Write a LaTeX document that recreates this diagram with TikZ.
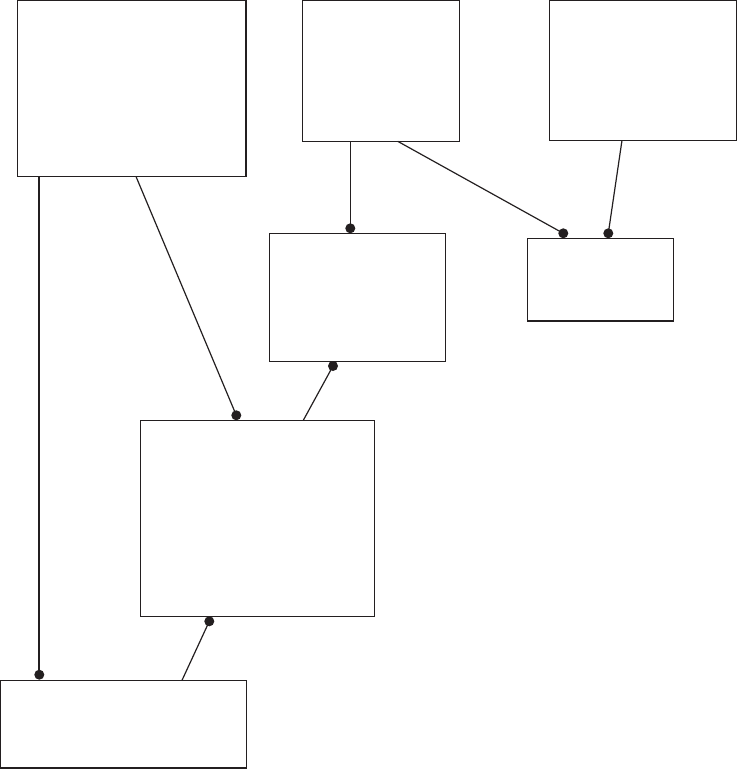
\documentclass[tikz,border=0pt]{standalone}
\definecolor{ink}{HTML}{231F20}
\begin{document}
\begin{tikzpicture}[x=1pt,y=-1pt,
  box/.style={draw=ink,line width=1.1pt,inner sep=0pt,outer sep=0pt,anchor=north west,fill=none},
  dotmark/.style={circle,fill=ink,inner sep=0pt,minimum size=10pt},
  link/.style={draw=ink,line width=1.2pt}]
\useasboundingbox (0,0) rectangle (738,769);
% boxes
\node[box,minimum width=228.7pt,minimum height=176pt] (A) at (17.3,0.5) {};
\node[box,minimum width=157.4pt,minimum height=140.8pt] (B) at (302.3,0.5) {};
\node[box,minimum width=187.5pt,minimum height=139.8pt] (C) at (549.3,0.5) {};
\node[box,minimum width=176pt,minimum height=128pt] (D) at (269.3,233.3) {};
\node[box,minimum width=146pt,minimum height=82.7pt] (E) at (527.3,238.3) {};
\node[box,minimum width=234pt,minimum height=196pt] (F) at (140.7,420.3) {};
\node[box,minimum width=245.8pt,minimum height=87.7pt] (G) at (0.5,680.3) {};
% dot positions
\coordinate (d1) at (39.3,674.7);
\coordinate (d2) at (236.3,415.3);
\coordinate (d3) at (350.3,228.3);
\coordinate (d4) at (563.3,233.3);
\coordinate (d5) at (608.3,233.3);
\coordinate (d6) at (333,366);
\coordinate (d7) at (209.3,621.3);
% connectors
\draw[link,line width=2pt] (A.south -| d1) -- (d1);
\draw[link] ([xshift=118.7pt]A.south west) -- (d2);
\draw[link] (B.south -| d3) -- (d3);
\draw[link] ([xshift=95.4pt]B.south west) -- (d4);
\draw[link] ([xshift=72.7pt]C.south west) -- (d5);
\draw[link] ([xshift=162.6pt]F.north west) -- (d6);
\draw[link] ([xshift=181.5pt]G.north west) -- (d7);
% dots
\foreach \d in {d1,d2,d3,d4,d5,d6,d7} \node[dotmark] at (\d) {};
\end{tikzpicture}
\end{document}
